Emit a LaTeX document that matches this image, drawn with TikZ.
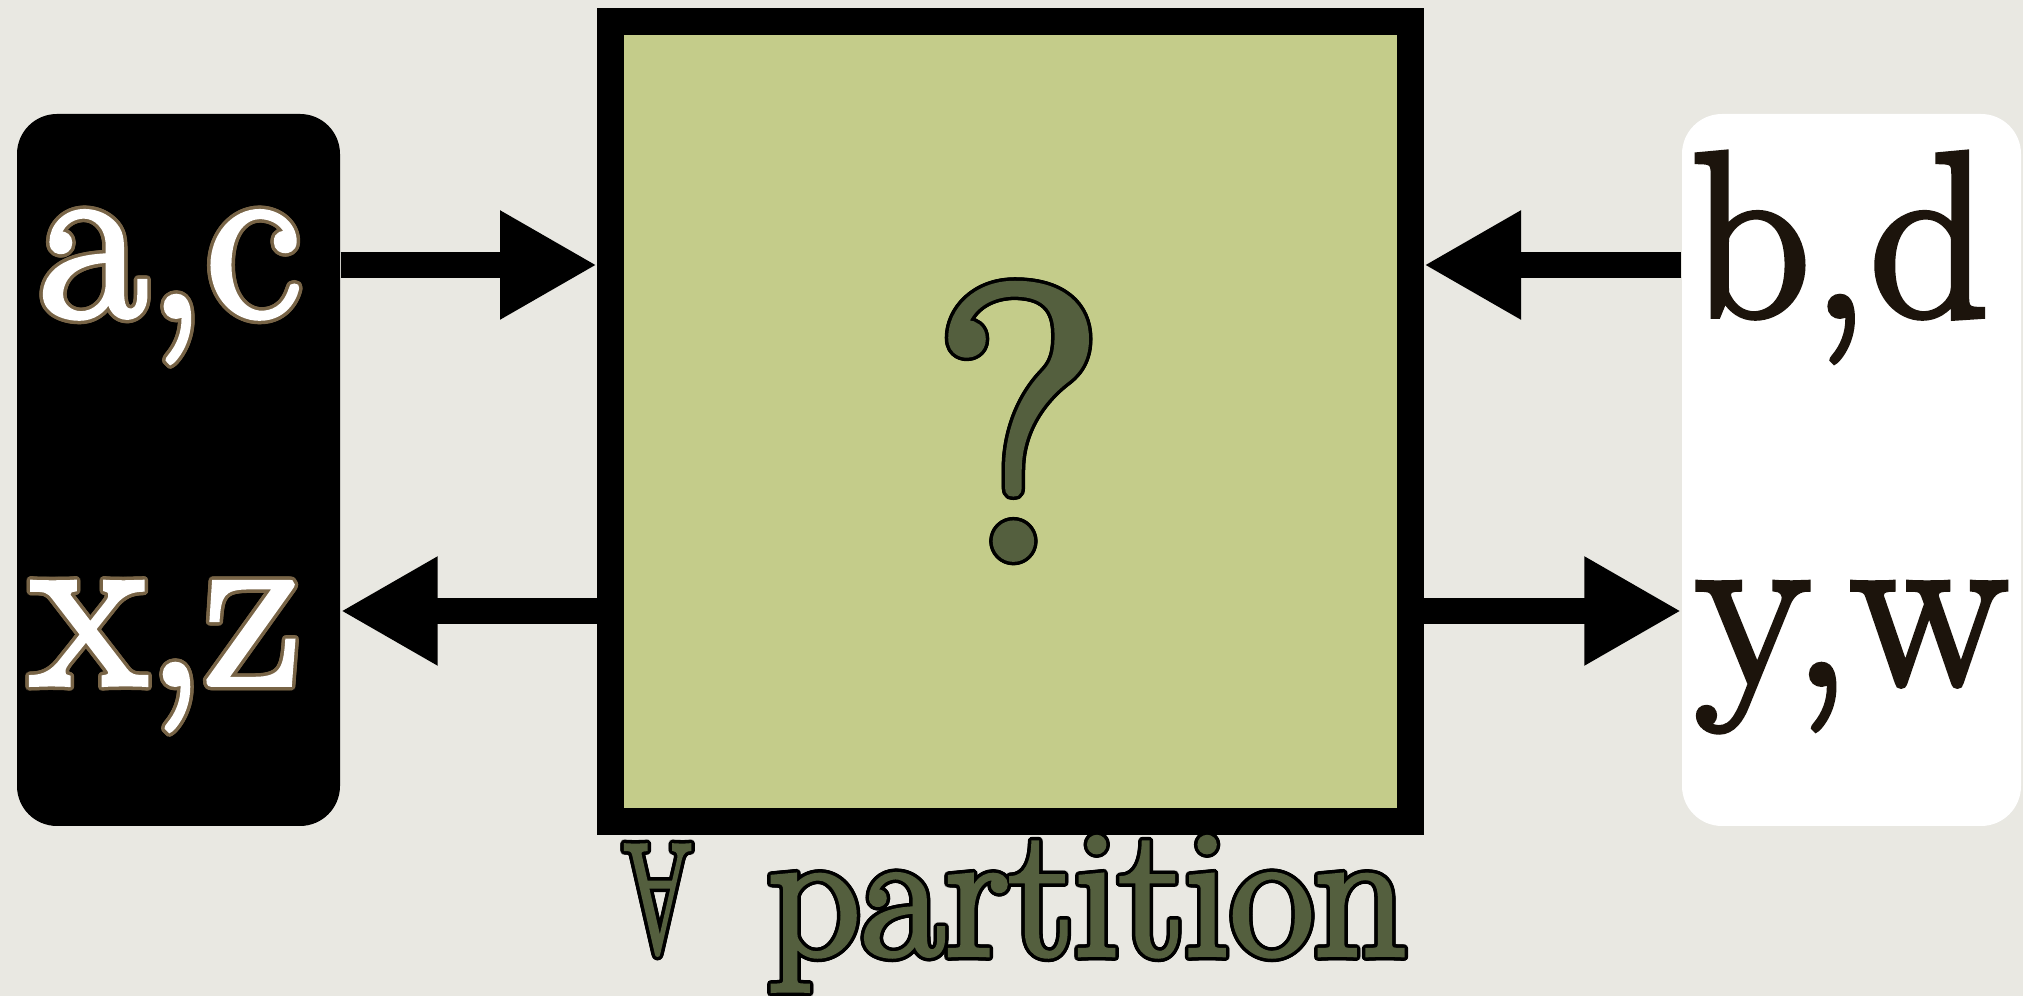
\documentclass[tikz,border=0pt]{standalone}
\usepackage{fontspec}
\usepackage{contour}
\newfontfamily\heavyserif{Latin Modern Roman}[FakeBold=2.5]
\usetikzlibrary{arrows.meta,positioning}
\definecolor{paper}{RGB}{233,232,226}
\definecolor{boxgreen}{RGB}{196,204,138}
\definecolor{olivetext}{RGB}{84,95,62}
\definecolor{inkdark}{RGB}{28,20,12}
\definecolor{glowtan}{RGB}{120,100,70}
\contourlength{1pt}
\tikzset{
  side/.style={
    shape = rectangle,
    rounded corners = 0.4cm,
    minimum height = 7.12cm,
    inner sep = 0pt
  },
  letters/.style={
    anchor = base,
    inner sep = 0pt,
    font = \heavyserif\fontsize{67}{67}\selectfont
  },
  flow/.style={
    line width = 0.26cm,
    -{Triangle[length=0.97cm,width=1.02cm]}
  },
}

\begin{document}
\begin{tikzpicture}
  \fill[paper] (0,0) rectangle (20.23,9.96);
  \useasboundingbox (0,0) rectangle (20.23,9.96);
  % the two sides
  \node[side, fill=black, minimum width=3.23cm] (lbox) at (1.785,5.26) {};
  \node[side, fill=white, minimum width=3.39cm] (rbox) at (18.515,5.26) {};
  \node[letters, white] (ac) at (1.70,6.80) {\contour{glowtan}{a,c}};
  \node[letters, white] (xz) at (1.66,3.12) {\contour{glowtan}{x,z}};
  \node[letters, inkdark] (bd) at (18.40,6.80) {b,d};
  \node[letters, inkdark] (yw) at (18.52,3.12) {y,w};
  % the unknown box
  \node[draw, line width=0.27cm, fill=boxgreen, minimum size=8cm] (sq) at (10.105,5.745) {};
  \node[anchor=base, inner sep=0pt, olivetext, font=\heavyserif\fontsize{110}{110}\selectfont] (q) at (10.19,4.39) {\contour{black}{?}};
  \node[anchor=base, inner sep=0pt, olivetext, font=\heavyserif\fontsize{52}{52}\selectfont] (all) at (10.15,0.41)
    {\contour{black}{\scalebox{0.55}[0.85]{\rotatebox[origin=c]{180}{A}}}\hspace{0.75cm}\contour{black}{partition}};
  \draw[flow] (lbox.east |- 0,7.31) -- (sq.west |- 0,7.31);
  \draw[flow] (sq.west |- 0,3.85) -- (lbox.east |- 0,3.85);
  \draw[flow] (rbox.west |- 0,7.31) -- (sq.east |- 0,7.31);
  \draw[flow] (sq.east |- 0,3.85) -- (rbox.west |- 0,3.85);
\end{tikzpicture}
\end{document}
